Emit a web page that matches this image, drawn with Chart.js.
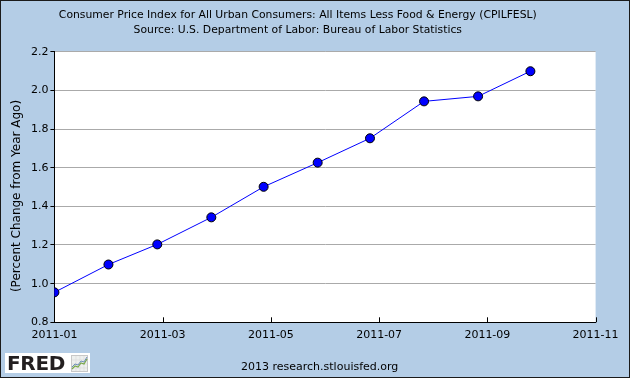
<!DOCTYPE html>
<html><head><meta charset="utf-8">
<script src="https://cdn.jsdelivr.net/npm/chart.js@4.4.1/dist/chart.umd.min.js"></script>
<style>
html,body{margin:0;padding:0;background:#B4CDE6;}
#wrap{position:relative;width:630px;height:378px;overflow:hidden;}
#c{position:absolute;left:0;top:0;}
#footer{position:absolute;left:241px;top:360px;font:11px "DejaVu Sans";color:#000;white-space:nowrap;line-height:13px;}
#logo{position:absolute;left:5px;top:353px;width:85px;height:20px;background:#fff;}
#logo span{position:absolute;left:2px;top:-2px;font:bold 20px "DejaVu Sans";color:#231f20;letter-spacing:-0.3px;line-height:24px;}
#logo svg{position:absolute;left:66px;top:2px;}
</style></head>
<body>
<div id="wrap">
<canvas id="c" width="630" height="378"></canvas>
<div id="logo"><span>FRED</span>
<svg width="17" height="17" viewBox="0 0 17 17"><rect x="0.5" y="0.5" width="16" height="16" fill="#eef0ee" stroke="#c8c8c8"/><path d="M1 5H16M1 9H16M1 13H16M5 1V16M9 1V16M13 1V16" stroke="#d8d8d8" stroke-width="0.6"/><polyline points="1,14 4,11 7,12 10,8 13,9 16,4" fill="none" stroke="#7aa84a" stroke-width="1.2"/><polyline points="1,12 4,9 7,10 10,6 13,7 16,2" fill="none" stroke="#6e8fb8" stroke-width="1"/></svg></div>
<div id="footer">2013 research.stlouisfed.org</div>
</div>
<script>
// ---- data ----
const titleLines = [
  'Consumer Price Index for All Urban Consumers: All Items Less Food & Energy (CPILFESL)',
  'Source: U.S. Department of Labor: Bureau of Labor Statistics'
];
const yAxisTitle = '(Percent Change from Year Ago)';
const dates = ['2011-01-01','2011-02-01','2011-03-01','2011-04-01','2011-05-01',
               '2011-06-01','2011-07-01','2011-08-01','2011-09-01','2011-10-01'];
const values = [0.955, 1.099, 1.203, 1.343, 1.501, 1.626, 1.752, 1.943, 1.969, 2.099];
const xTickLabels = ['2011-01','2011-03','2011-05','2011-07','2011-09','2011-11'];
const yMin = 0.8, yMax = 2.2, yStep = 0.2;

// ---- scale config ----
const startDate = Date.UTC(2011,0,1);
const xSpanDays = 310.4;
function dayOffset(s){ const p=s.split('-').map(Number); return (Date.UTC(p[0],p[1]-1,p[2])-startDate)/86400000; }

const family = '"DejaVu Sans", Verdana, sans-serif';
const font = {family, size:11};

const bgPlugin = {
  id:'bg',
  beforeDraw(chart){
    const {ctx, chartArea:a} = chart;
    ctx.save();
    ctx.fillStyle = '#B4CDE6';
    ctx.fillRect(0,0,chart.width,chart.height);
    ctx.fillStyle = '#FFFFFF';
    ctx.fillRect(a.left, a.top, a.right-a.left, a.bottom-a.top);
    ctx.restore();
  },
  afterDraw(chart){
    const {ctx, chartArea:a} = chart;
    const xs = chart.scales.x;
    ctx.save();
    ctx.strokeStyle = '#000';
    ctx.lineWidth = 1;
    ctx.beginPath();
    xs.ticks.forEach(t=>{
      const px = Math.round(xs.getPixelForValue(t.value)) + 0.5;
      ctx.moveTo(px, a.bottom);
      ctx.lineTo(px, a.bottom-5);
    });
    ctx.stroke();
    // y-axis title
    ctx.translate(16.5, (a.top + a.bottom)/2 + 9);
    ctx.rotate(-Math.PI/2);
    ctx.font = '12px ' + family;
    ctx.fillStyle = '#000';
    ctx.textAlign = 'center';
    ctx.textBaseline = 'middle';
    ctx.fillText(yAxisTitle, 0, 0);
    ctx.setTransform(1,0,0,1,0,0);
    ctx.strokeStyle = '#1a1a1a';
    ctx.strokeRect(0.5,0.5,chart.width-1,chart.height-1);
    ctx.restore();
  }
};

new Chart(document.getElementById('c'), {
  type:'line',
  data:{datasets:[{
    data: dates.map((d,i)=>({x:dayOffset(d), y:values[i]})),
    borderColor:'#0000FF', borderWidth:1, tension:0,
    pointRadius:4.5, pointBackgroundColor:'#0000FF',
    pointBorderColor:'#000000', pointBorderWidth:1
  }]},
  options:{
    responsive:false, animation:false, devicePixelRatio:1,
    layout:{padding:{left:0,right:34.4,top:0,bottom:0}},
    plugins:{
      legend:{display:false}, tooltip:{enabled:false},
      title:{display:true, text:titleLines, color:'#000',
        font:{family, size:10.8, weight:'normal', lineHeight:15/10.8},
        padding:{top:7.5,bottom:14.2}}
    },
    scales:{
      x:{type:'linear', min:0, max:xSpanDays,
        afterBuildTicks:s=>{ s.ticks = xTickLabels.map((l,i)=>({value:i*xSpanDays/(xTickLabels.length-1)})); },
        ticks:{callback:(v,i)=>xTickLabels[i], font, color:'#000', padding:6, maxRotation:0, autoSkip:false},
        grid:{display:true, drawOnChartArea:false, drawTicks:false},
        border:{color:'#000', width:1},
        afterFit:s=>{ s.height = 55.7; }
      },
      y:{min:yMin, max:yMax,
        ticks:{stepSize:yStep, callback:v=>Number(v).toFixed(1), font, color:'#000', padding:2},
        grid:{color:c=> Math.abs(c.tick.value-yMin)<1e-6 ? 'rgba(0,0,0,0)' : '#AAAAAA', tickColor:'#000', tickLength:4, lineWidth:1},
        border:{color:'#000', width:1},
        title:{display:false, text:yAxisTitle},
        afterFit:s=>{ s.width = 54.4; }
      }
    }
  },
  plugins:[bgPlugin]
});
</script>
</body></html>
